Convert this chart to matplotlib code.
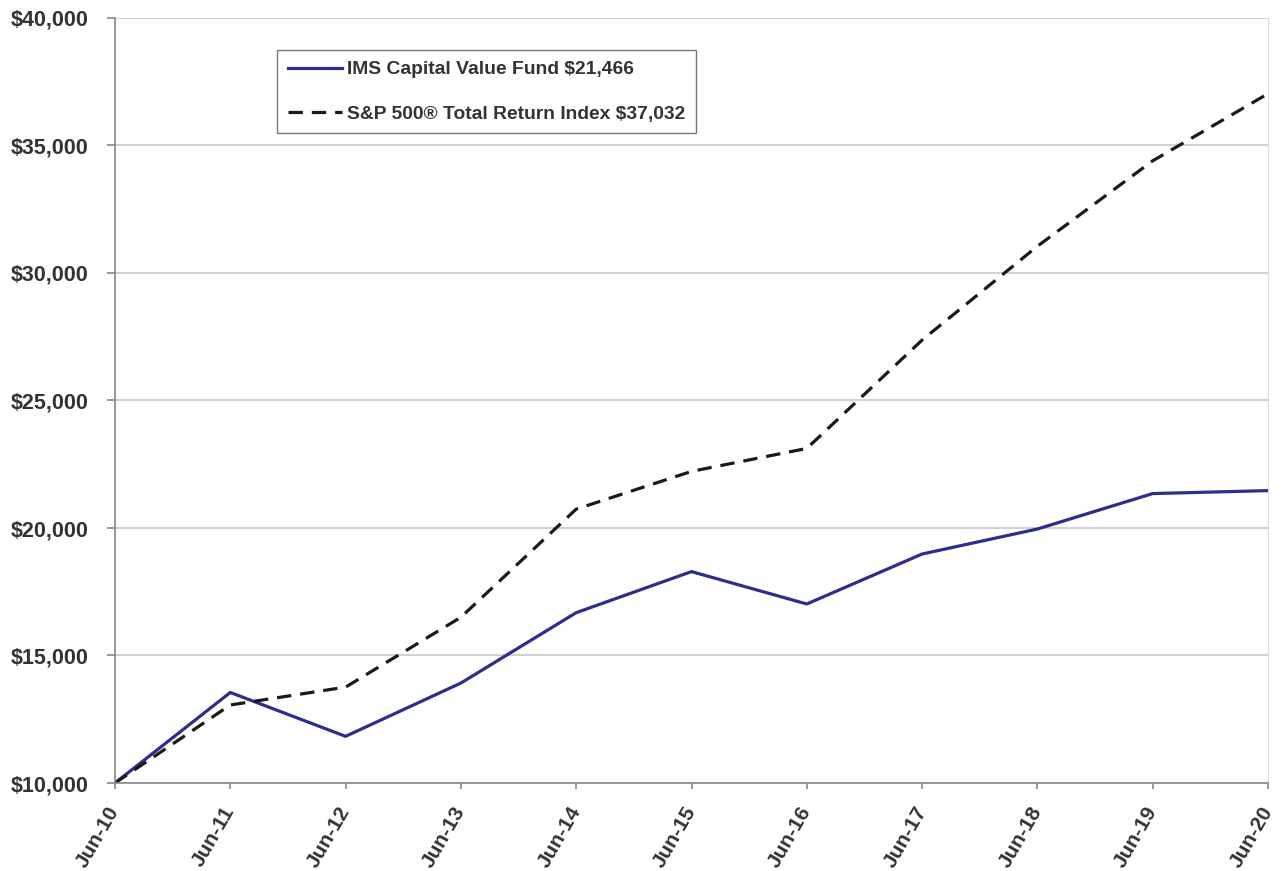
import matplotlib.pyplot as plt
from matplotlib.ticker import FuncFormatter

years = ['Jun-10', 'Jun-11', 'Jun-12', 'Jun-13', 'Jun-14', 'Jun-15',
         'Jun-16', 'Jun-17', 'Jun-18', 'Jun-19', 'Jun-20']
fund = [10000, 13550, 11830, 13920, 16680, 18290, 17020, 18980, 19960, 21350, 21466]
sp500 = [10000, 13060, 13760, 16500, 20740, 22220, 23120, 27370, 31050, 34400, 37032]

fund_label = 'IMS Capital Value Fund $21,466'
sp_label = 'S&P 500\u00ae Total Return Index $37,032'

plt.rcParams['font.family'] = ['Liberation Sans', 'DejaVu Sans']

fig = plt.figure(figsize=(12.81, 8.71), dpi=100)
ax = fig.add_axes([115 / 1281, 1 - 783 / 871, (1268 - 115) / 1281, (783 - 18) / 871])

x = list(range(len(years)))
ax.plot(x, fund, color='#2e2d8c', lw=2.3, label=fund_label)
ax.plot(x, sp500, color='#1a1a1a', lw=2.3, dashes=(4.5, 2.8), label=sp_label)

ax.set_xlim(0, len(years) - 1)
ax.set_ylim(10000, 40000)
ax.set_yticks(range(10000, 40001, 5000))
ax.yaxis.set_major_formatter(FuncFormatter(lambda v, p: '${:,.0f}'.format(v)))
ax.set_xticks(x)
ax.set_xticklabels(years, rotation=60, ha='right', va='center', rotation_mode='anchor')

ax.grid(axis='y', color='#c8c8c8', lw=1.2)
ax.set_axisbelow(True)
for s in ['left', 'bottom']:
    ax.spines[s].set_color('#888888')
    ax.spines[s].set_linewidth(1.2)
ax.spines['top'].set_visible(False)
ax.spines['right'].set_color('#dddddd')
ax.tick_params(axis='y', colors='#888888', length=6, width=1.2, direction='out',
               labelcolor='#333333', labelsize=15.5, pad=13)
ax.tick_params(axis='x', colors='#888888', length=4, width=1.2, direction='out',
               labelcolor='#333333', labelsize=15, pad=14)
for t in ax.get_xticklabels() + ax.get_yticklabels():
    t.set_fontweight('bold')

leg = ax.legend(loc='upper left', bbox_to_anchor=(0.1405, 0.958), frameon=True,
                fancybox=False, edgecolor='#555555', fontsize=13.9,
                handlelength=2.8, handletextpad=0.3, labelspacing=1.4,
                borderpad=0.55, borderaxespad=0)
leg.get_frame().set_linewidth(1.0)
for t in leg.get_texts():
    t.set_fontweight('bold')
    t.set_color('#333333')

fig.savefig('out.png', dpi=100)
